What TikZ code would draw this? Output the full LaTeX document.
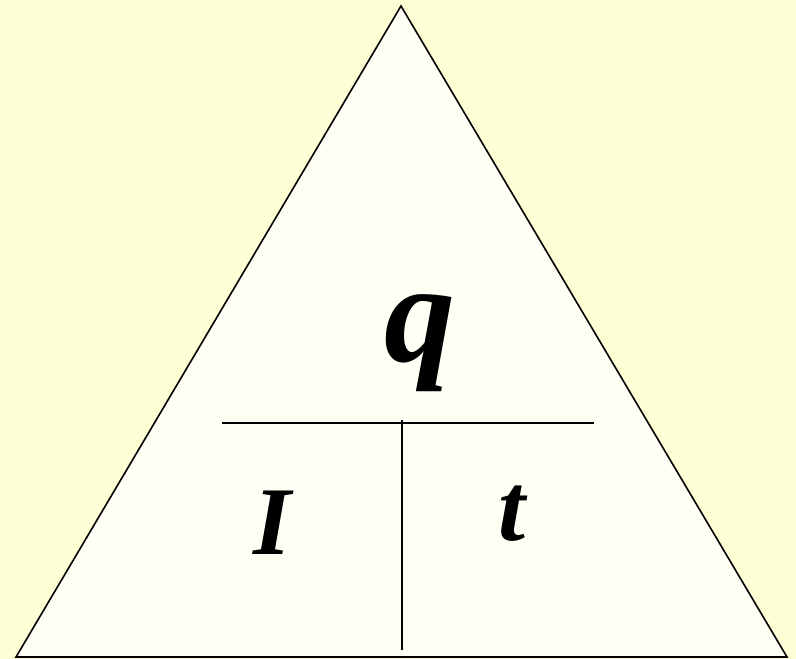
\documentclass[tikz,border=0pt]{standalone}
\usepackage{fontspec}
\setmainfont{Liberation Serif}
\definecolor{bgyellow}{RGB}{255,255,213}
\definecolor{trifill}{RGB}{255,255,245}
\begin{document}
\begin{tikzpicture}[x=1pt,y=-1pt,
  edge/.style={draw=black,line width=1.6pt},
  sym/.style={inner sep=0pt,anchor=base,font=\bfseries\itshape}]
\fill[bgyellow] (0,0) rectangle (796,659);
\useasboundingbox (0,0) rectangle (796,659);
\coordinate (top) at (401,6);
\coordinate (bl) at (16,657);
\coordinate (br) at (787,657);
\filldraw[fill=trifill,edge,line join=miter] (top) -- (br) -- (bl) -- cycle;
\coordinate (hl) at (222,423);
\coordinate (hr) at (594,423);
\coordinate (vt) at (402,420);
\coordinate (vb) at (402,650);
\draw[edge] (hl) -- (hr);
\draw[edge] (vt) -- (vb);
\node[sym,font=\fontsize{142}{142}\selectfont\bfseries\itshape] (q) at (420,361) {q};
\node[sym,font=\fontsize{97}{97}\selectfont\bfseries\itshape] (I) at (272,554) {I};
\node[sym,font=\fontsize{97}{97}\selectfont\bfseries\itshape] (t) at (512,540) {t};
\end{tikzpicture}
\end{document}
